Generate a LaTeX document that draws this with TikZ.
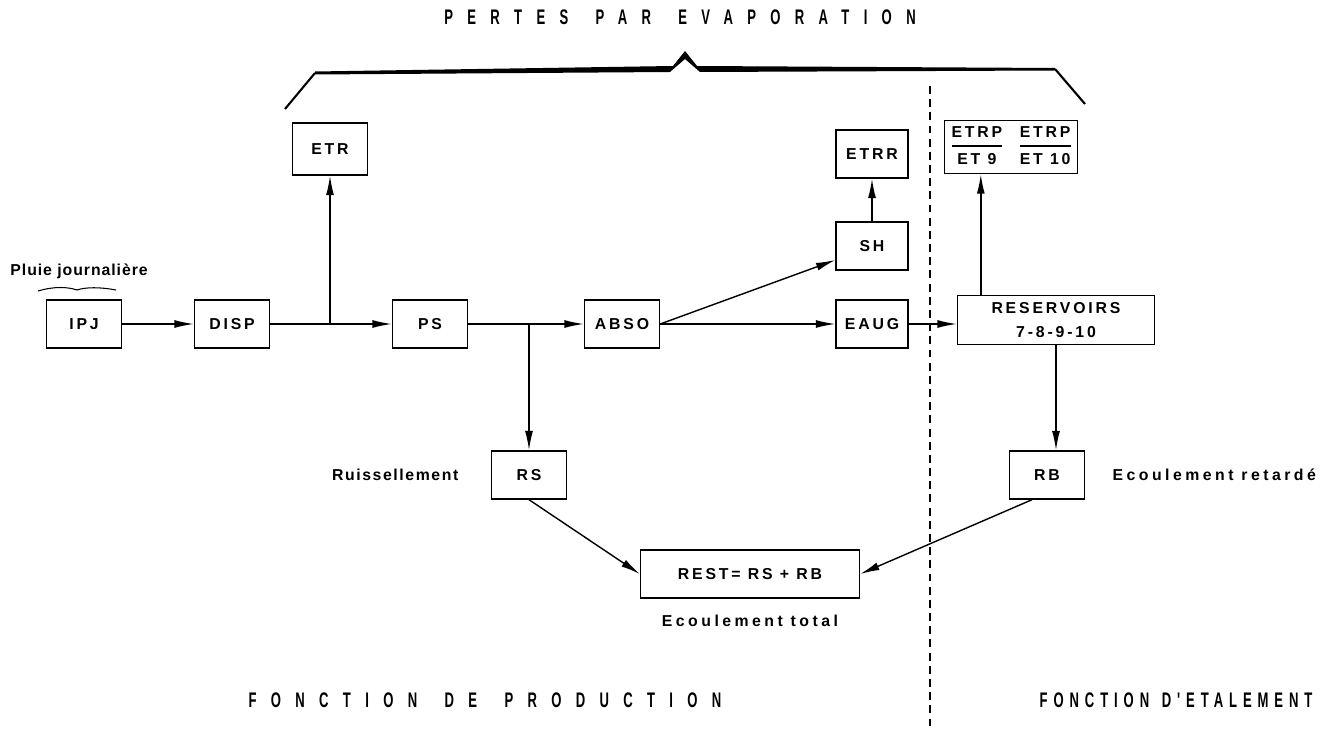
\documentclass[tikz,border=0pt]{standalone}
\usepackage{fontspec}
\setmainfont{Liberation Sans}
\newfontfamily\boxfont{Liberation Sans}[LetterSpace=18]
\newfontfamily\capfont{Liberation Sans}[FakeStretch=0.62,LetterSpace=68]
\newfontfamily\capfontb{Liberation Sans}[FakeStretch=0.62,LetterSpace=28]
\usetikzlibrary{arrows.meta, positioning}
\newcommand{\ratio}[2]{\begin{tabular}{@{}c@{}}#1\\[1pt]\hline\rule{0pt}{10pt}#2\end{tabular}}

\begin{document}
\begin{tikzpicture}[x=0.02cm, y=-0.02cm, line width=0.8pt,
    blk/.style={draw, font=\boxfont\bfseries\small, minimum width=1.5cm, minimum height=0.96cm, inner sep=2pt},
    lbl/.style={font=\boxfont\bfseries\small, inner sep=1pt},
    titre/.style={font=\capfont\bfseries\large, inner sep=0pt},
    flow/.style={-{Latex[length=11pt,width=4.5pt]}}]
  \useasboundingbox (0,0) rectangle (1333,729);

  \node[blk] (ipj) at (84,324) {IPJ};
  \node[blk] (disp) at (232,324) {DISP};
  \node[blk, minimum height=1.04cm] (etr) at (330,149) {ETR};
  \node[blk] (ps) at (430,324) {PS};
  \node[blk] (abso) at (622,324) {ABSO};
  \node[blk, minimum width=1.44cm] (etrr) at (872,154) {ETRR};
  \node[blk, minimum width=1.44cm] (sh) at (872,246) {SH};
  \node[blk, minimum width=1.44cm] (eaug) at (872,324) {EAUG};
  \node[blk, minimum width=3.94cm, minimum height=0.98cm, align=center] (res) at (1056,320) {RESERVOIRS\\[3pt]7-8-9-10};
  \arrayrulewidth=1pt
  \node[blk, minimum width=2.66cm, minimum height=1.02cm] (etrp) at (1011,147) {\ratio{ETRP}{ET 9}\hspace{10pt}\ratio{ETRP}{ET 10}};
  \node[blk] (rs) at (529,475) {RS};
  \node[blk] (rb) at (1047,475) {RB};
  \node[blk, minimum width=4.38cm] (rest) at (750,574) {REST= RS + RB};

  \node[lbl, anchor=west, font=\boxfont\bfseries\small\addfontfeature{LetterSpace=6}] (pluie) at (8,271) {Pluie journalière};
  \node[lbl, left=0.6cm of rs, font=\boxfont\bfseries\small\addfontfeature{LetterSpace=10}] (ruis) {Ruissellement};
  \node[lbl, right=0.5cm of rb, font=\boxfont\bfseries\small\addfontfeature{LetterSpace=22}] (retard) {Ecoulement retardé};
  \node[lbl, below=0.28cm of rest, font=\boxfont\bfseries\small\addfontfeature{LetterSpace=22}] (total) {Ecoulement total};

  \node[titre] (pertes) at (680,17) {PERTES\hspace{1.3em}PAR\hspace{1.3em}EVAPORATION};
  \node[titre] (prod) at (485,700) {FONCTION\hspace{1.3em}DE\hspace{1.3em}PRODUCTION};
  \node[titre, font=\capfontb\bfseries\large] (etal) at (1176,700) {FONCTION\hspace{0.6em}D'ETALEMENT};

  % accolade
  \draw[line width=1.2pt] (285,109) -- (315,73);
  \fill (315,71.5) -- (673,66) -- (685,51) -- (697,66) -- (1055,68) -- (1055,70.5) -- (700,72) -- (685,59) -- (670,72) -- (315,74.5) -- cycle;
  \draw[line width=1.2pt] (1055,69) -- (1085,104);
  \draw[line width=0.6pt] (38,291) .. controls (55,286) and (68,287) .. (77,290) .. controls (86,287) and (100,287) .. (116,290);
  \draw[line width=0.6pt, dash pattern=on 4.5pt off 3pt] (930,86) -- (930,729);

  \draw[flow] (ipj) -- (disp);
  \coordinate (j1) at (etr.south |- disp.east);
  \draw (disp) -- (j1);
  \draw[flow] (j1) -- (ps);
  \draw[flow] (j1) -- (etr);
  \coordinate (j2) at (rs.north |- ps.east);
  \draw (ps) -- (j2);
  \draw[flow] (j2) -- (abso);
  \draw[flow] (j2) -- (rs);
  \draw[flow] (abso.east) -- ([yshift=-8pt]sh.west);
  \draw[flow] (abso) -- (eaug);
  \draw[flow] (eaug) -- (eaug -| res.west);
  \draw[flow] (sh) -- (etrr);
  \draw[flow] ([xshift=0.48cm]res.north west) -- ([xshift=0.48cm]res.north west |- etrp.south);
  \draw[flow] (res.south) -- (res.south |- rb.north);
  \draw[flow] (rs.south) -- (rest.west);
  \draw[flow] ([xshift=-0.3cm]rb.south) -- (rest.east);
\end{tikzpicture}
\end{document}
